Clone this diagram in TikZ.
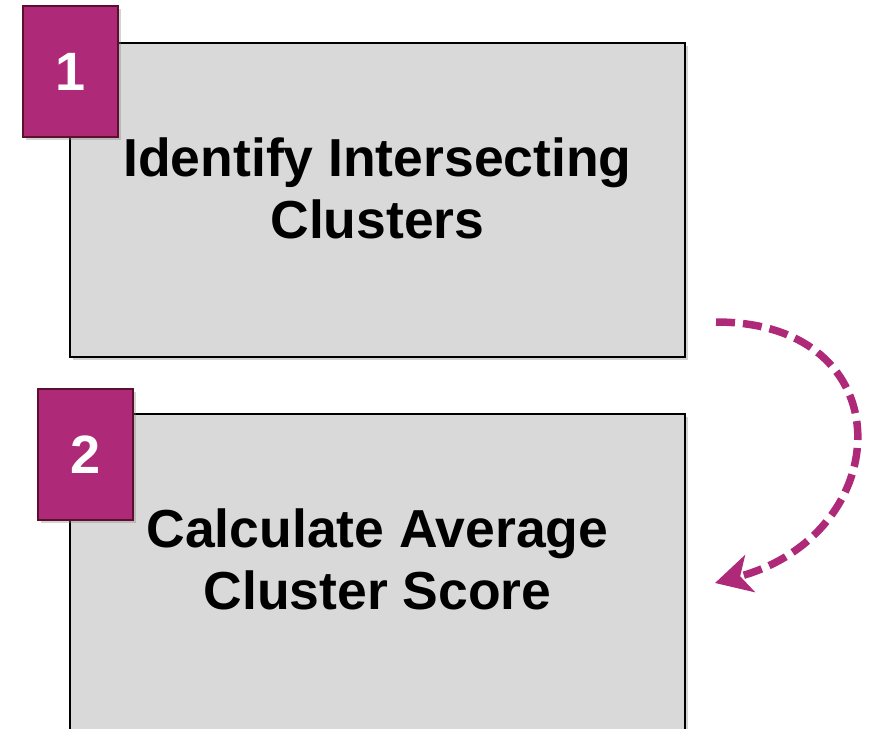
\documentclass[tikz,border=0pt]{standalone}
\usepackage{fontspec}
\setmainfont{Liberation Sans}
\usepackage{tikz}
\usetikzlibrary{positioning,shadows,arrows.meta}

\definecolor{stepmag}{RGB}{174,42,120}
\definecolor{stepmagdark}{RGB}{94,15,46}
\definecolor{stepgray}{RGB}{217,217,217}

\begin{document}
\begin{tikzpicture}[x=1pt,y=1pt,
    stepbox/.style={draw=black, line width=2pt, fill=stepgray, minimum width=615pt, minimum height=314pt,
        drop shadow={shadow xshift=3pt, shadow yshift=-3pt, opacity=0.35}},
    steptext/.style={font=\bfseries\fontsize{53.5}{62}\selectfont, align=center},
    badge/.style={draw=stepmagdark, line width=2pt, fill=stepmag, minimum width=95pt, minimum height=131pt,
        text=white, font=\bfseries\fontsize{54}{60}\selectfont,
        drop shadow={shadow xshift=3pt, shadow yshift=-3pt, opacity=0.35}},
    looparrow/.style={draw=stepmag, line width=7.5pt, dash pattern=on 19pt off 8pt,
        -{Stealth[length=36pt, width=38pt, inset=10pt]}}]
    \useasboundingbox (0,0) rectangle (869,-728);

    % step boxes
    \node[stepbox] (box1) at (377.5,-200) {};
    \node[stepbox, minimum height=316pt] (box2) at (377.5,-572) {};
    \node[steptext] (txt1) at (377.5,-188.5) {Identify Intersecting\\Clusters};
    \node[steptext] (txt2) at (377.5,-559) {Calculate Average\\Cluster Score};

    % number badges
    \node[badge] (num1) at (70.5,-71.5) {1};
    \node[badge] (num2) at (85.5,-454.5) {2};

    % loop back arrow
    \coordinate (loopS) at (716,-322);
    \coordinate (loopE) at (715,-583);
    \draw[looparrow] (loopS) to[out=0, in=15, looseness=1.85] (loopE);
\end{tikzpicture}
\end{document}
